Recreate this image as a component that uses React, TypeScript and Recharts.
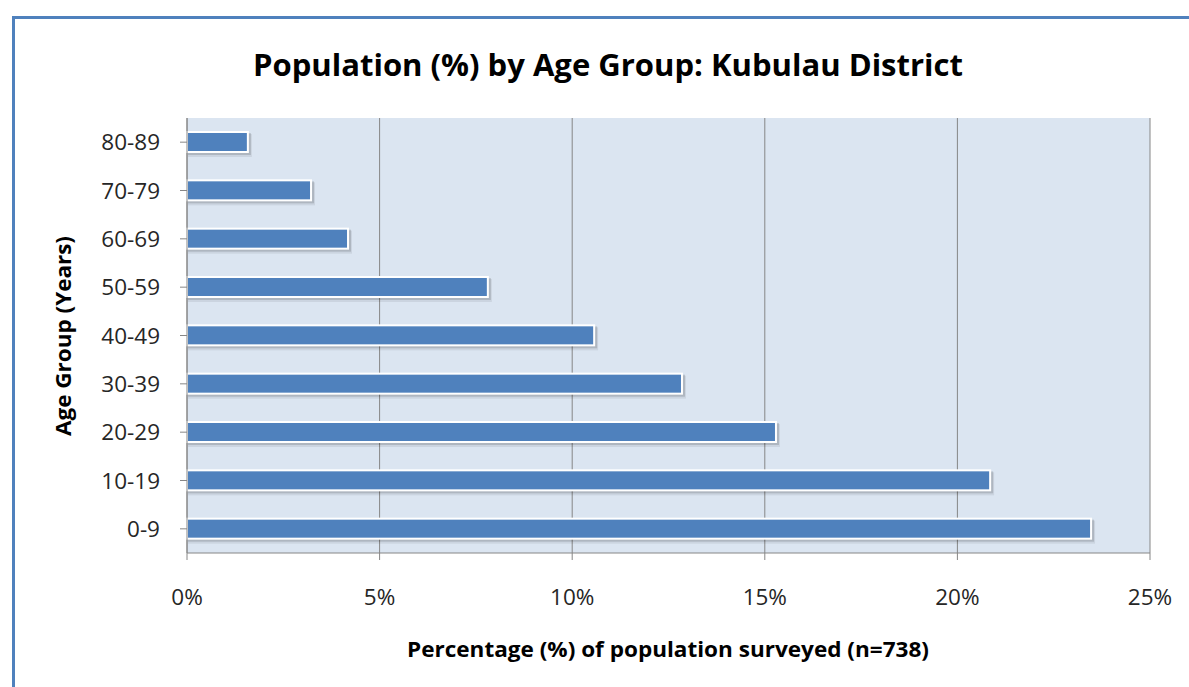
import React from "react";
import { BarChart, Bar, XAxis, YAxis, CartesianGrid } from "recharts";

const ageGroups = ["0-9", "10-19", "20-29", "30-39", "40-49", "50-59", "60-69", "70-79", "80-89"];
const percentages = [23.47, 20.85, 15.29, 12.85, 10.57, 7.81, 4.18, 3.22, 1.58];
const xTicks = [0, 5, 10, 15, 20, 25];

const data = ageGroups.map((g, i) => ({ group: g, value: percentages[i] }));

const FONT = "'Open Sans', 'Noto Sans', sans-serif";

const BarShape = (props: any) => {
  const { x, y, width, height } = props;
  if (!width || width <= 0) return null;
  return (
    <g>
      <rect x={x + 1} y={y + 2} width={width + 3} height={height + 3} fill="#000" opacity={0.07} />
      <rect x={x + 1} y={y + 1} width={width + 2} height={height + 2} fill="#000" opacity={0.14} />
      <rect x={x} y={y} width={width} height={height} fill="#4f81bd" stroke="#ffffff" strokeWidth={2} />
    </g>
  );
};

const XTick = (props: any) => {
  const { x, y, payload } = props;
  return (
    <text x={x} y={y + 15} textAnchor="middle" fontFamily={FONT} fontSize={22.5} fill="#262626">
      {`${payload.value}%`}
    </text>
  );
};

const YTick = (props: any) => {
  const { x, y, payload } = props;
  return (
    <text x={x} y={y + 8} textAnchor="end" fontFamily={FONT} fontSize={22.5} fill="#262626">
      {payload.value}
    </text>
  );
};

export default function App() {
  return (
    <div style={{ position: "absolute", left: 0, top: 0, width: 1189, height: 687, overflow: "hidden", background: "#fff" }}>
      <div
        style={{
          position: "absolute",
          left: 12,
          top: 16,
          width: 2000,
          height: 1000,
          borderLeft: "3px solid #4f81bd",
          borderTop: "3px solid #4f81bd",
        }}
      />
      <div style={{ position: "absolute", left: 0, top: 0 }}>
        <BarChart
          width={1189}
          height={687}
          data={data}
          layout="vertical"
          margin={{ top: 118, right: 39, bottom: 74, left: 107 }}
          barCategoryGap={0}
        >
          <CartesianGrid horizontal={false} vertical={true} stroke="#868686" fill="#dbe5f1" strokeWidth={1} />
          <XAxis
            type="number"
            domain={[0, 25]}
            ticks={xTicks}
            tickSize={7}
            tickMargin={30}
            height={60}
            axisLine={{ stroke: "#868686" }}
            tickLine={{ stroke: "#868686" }}
            tick={<XTick />}
            interval={0}
          />
          <YAxis
            type="category"
            dataKey="group"
            reversed
            width={80}
            tickSize={7}
            tickMargin={20}
            axisLine={{ stroke: "#868686" }}
            tickLine={{ stroke: "#868686" }}
            tick={<YTick />}
            interval={0}
          />
          <Bar dataKey="value" barSize={20} shape={<BarShape />} isAnimationActive={false} />
        </BarChart>
      </div>
      <svg width={1189} height={687} style={{ position: "absolute", left: 0, top: 0, pointerEvents: "none" }}>
        <text
          x={608}
          y={76}
          textAnchor="middle"
          fontFamily={FONT}
          fontWeight="bold"
          fontSize={31}
          fill="#000"
          textLength={710}
          lengthAdjust="spacingAndGlyphs"
        >
          Population (%) by Age Group: Kubulau District
        </text>
        <text
          x={668}
          y={657}
          textAnchor="middle"
          fontFamily={FONT}
          fontWeight="bold"
          fontSize={21}
          fill="#000"
          textLength={522}
          lengthAdjust="spacingAndGlyphs"
        >
          Percentage (%) of population surveyed (n=738)
        </text>
        <text
          x={0}
          y={0}
          transform="translate(71, 336) rotate(-90)"
          textAnchor="middle"
          fontFamily={FONT}
          fontWeight="bold"
          fontSize={21}
          fill="#000"
          textLength={200}
          lengthAdjust="spacingAndGlyphs"
        >
          Age Group (Years)
        </text>
      </svg>
    </div>
  );
}
